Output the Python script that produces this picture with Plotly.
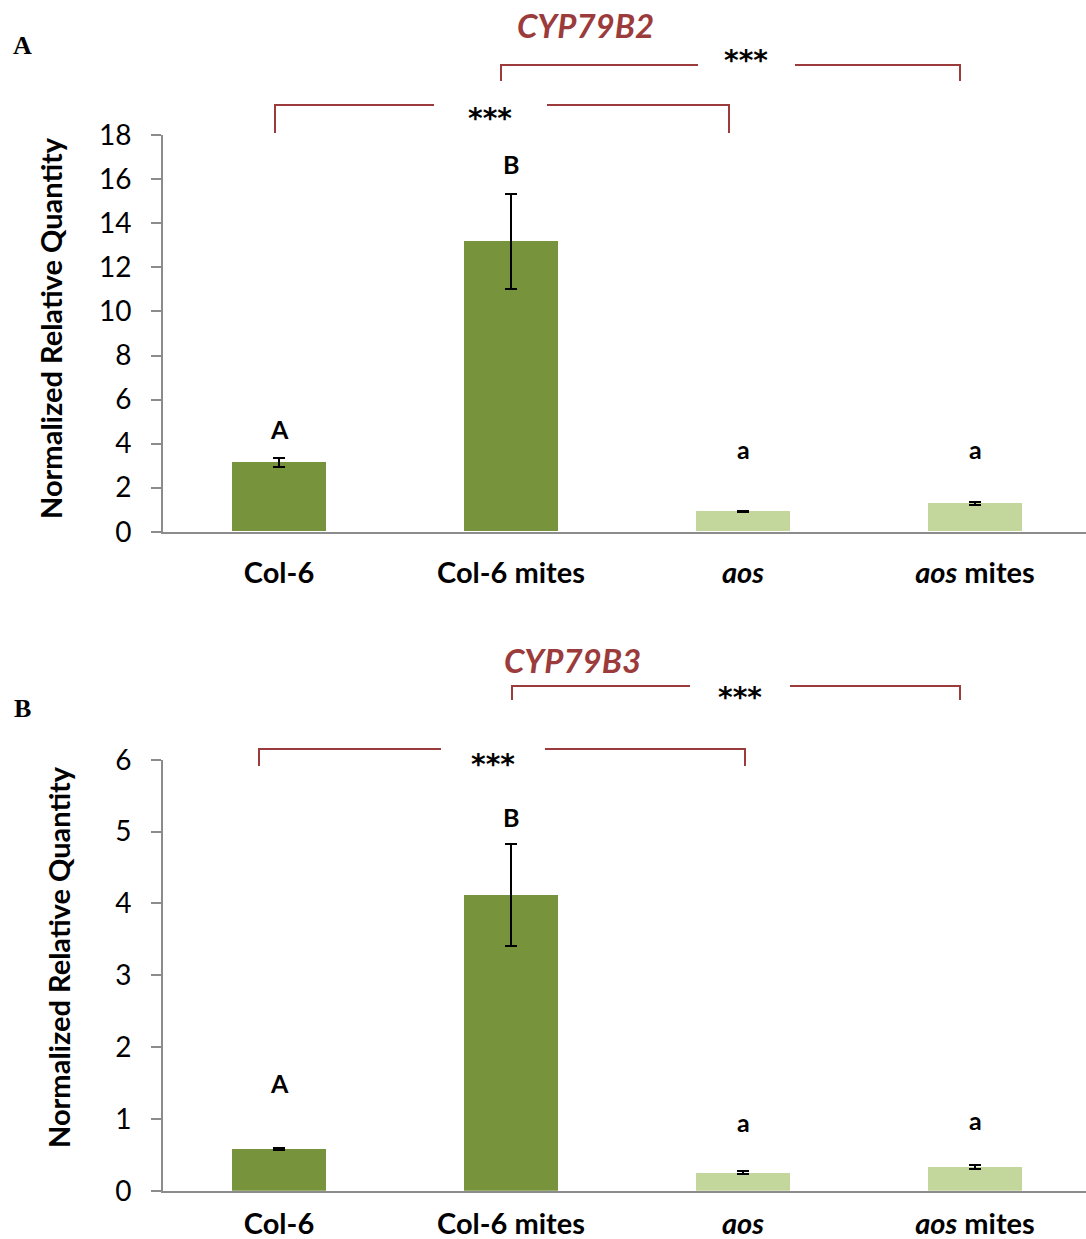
import plotly.graph_objects as go

W, H = 1086, 1239

categories = ["Col-6", "Col-6 mites", "aos", "aos mites"]
tick_text = ["<b>Col-6</b>", "<b>Col-6 mites</b>", "<b><i>aos</i></b>", "<b><i>aos</i> mites</b>"]

# Panel A: CYP79B2
values_a = [3.14, 13.17, 0.91, 1.27]
errors_a = [0.20, 2.15, 0.03, 0.07]
letters_a = ["A", "B", "a", "a"]
letter_y_a = [4.65, 16.7, 3.75, 3.75]

# Panel B: CYP79B3
values_b = [0.58, 4.12, 0.25, 0.33]
errors_b = [0.02, 0.71, 0.02, 0.03]
letters_b = ["A", "B", "a", "a"]
letter_y_b = [1.5, 5.2, 0.95, 0.98]

bar_colors = ["#77933C", "#77933C", "#C3D69B", "#C3D69B"]
DARKRED = "#9B3B3B"
FONT = "Lato"

fig = go.Figure()

x_idx = list(range(len(categories)))

fig.add_trace(go.Bar(x=x_idx, y=values_a, width=0.405, marker=dict(color=bar_colors, line=dict(width=0)),
                     error_y=dict(type="data", array=errors_a, color="black", thickness=2, width=6),
                     xaxis="x", yaxis="y", showlegend=False))
fig.add_trace(go.Bar(x=x_idx, y=values_b, width=0.405, marker=dict(color=bar_colors, line=dict(width=0)),
                     error_y=dict(type="data", array=errors_b, color="black", thickness=2, width=6),
                     xaxis="x2", yaxis="y2", showlegend=False))

xdom = [163 / W, 1.0]
xrange = [-0.5, -0.5 + (W - 163) / 232]

def pf(py):
    return 1 - py / H

common_x = dict(domain=xdom, range=xrange, tickmode="array", tickvals=x_idx, ticktext=tick_text,
                showline=True, linecolor="#8C8C8C", linewidth=2, ticks="", showgrid=False, zeroline=False,
                tickfont=dict(family=FONT, size=29, color="black"), automargin=False)
common_y = dict(showline=True, linecolor="#8C8C8C", linewidth=2, ticks="outside", ticklen=10,
                tickcolor="#8C8C8C", tickwidth=2, showgrid=False, zeroline=False,
                tickfont=dict(family=FONT, size=28, color="black"), ticklabelstandoff=14, automargin=False)
fig.update_layout(
    width=W, height=H, margin=dict(l=0, r=0, t=0, b=0),
    paper_bgcolor="white", plot_bgcolor="white", bargap=0,
    xaxis=dict(anchor="y", ticklabelstandoff=14, **common_x),
    xaxis2=dict(anchor="y2", ticklabelstandoff=6, **common_x),
    yaxis=dict(domain=[pf(531.7), pf(135.3)], range=[0, 18], dtick=2, anchor="x", **common_y),
    yaxis2=dict(domain=[pf(1190.7), pf(759.7)], range=[0, 6], dtick=1, anchor="x2", **common_y),
)

ann = []

def add_text(x, y, text, font, xref="paper", yref="paper", angle=0):
    ann.append(dict(x=x, y=y, xref=xref, yref=yref, text=text, showarrow=False, textangle=angle,
                    xanchor="center", yanchor="middle", font=font))

# letters above bars
for i, (t, yv) in enumerate(zip(letters_a, letter_y_a)):
    add_text(i, yv, f"<b>{t}</b>", dict(family=FONT, size=25, color="black"), "x", "y")
for i, (t, yv) in enumerate(zip(letters_b, letter_y_b)):
    add_text(i, yv, f"<b>{t}</b>", dict(family=FONT, size=25, color="black"), "x2", "y2")

# y-axis titles
add_text(50 / W, pf(328), "<b>Normalized Relative Quantity</b>", dict(family=FONT, size=29, color="black"), angle=-90)
add_text(58 / W, pf(957), "<b>Normalized Relative Quantity</b>", dict(family=FONT, size=29, color="black"), angle=-90)

# gene titles
add_text(585 / W, pf(25), "<b><i>CYP79B2</i></b>", dict(family=FONT, size=33, color=DARKRED))
add_text(572 / W, pf(660), "<b><i>CYP79B3</i></b>", dict(family=FONT, size=33, color=DARKRED))

# panel labels
add_text(22 / W, pf(45), "<b>A</b>", dict(family="Liberation Serif", size=26, color="black"))
add_text(22 / W, pf(708), "<b>B</b>", dict(family="Liberation Serif", size=26, color="black"))

# significance brackets: (x_left, x_right, y_top, y_bottom, gap_left, gap_right, star_x, star_y)
brackets = [
    (501, 960, 65, 81, 698, 795, 746, 61),
    (275, 729, 105, 133, 434, 547, 490, 118),
    (512, 960, 686, 700, 690, 790, 740, 697),
    (259, 745, 749, 766, 441, 545, 493, 764),
]
shapes = []
for xl, xr, yt, yb, gl, gr, sx, sy in brackets:
    path = (f"M {xl/W},{pf(yb)} L {xl/W},{pf(yt)} L {gl/W},{pf(yt)} "
            f"M {gr/W},{pf(yt)} L {xr/W},{pf(yt)} L {xr/W},{pf(yb)}")
    shapes.append(dict(type="path", path=path, xref="paper", yref="paper",
                       line=dict(color=DARKRED, width=2)))
    add_text(sx / W, pf(sy), "<b>***</b>", dict(family="DejaVu Sans", size=28, color="black"))

fig.update_layout(annotations=ann, shapes=shapes)
fig.write_html("out.html")
